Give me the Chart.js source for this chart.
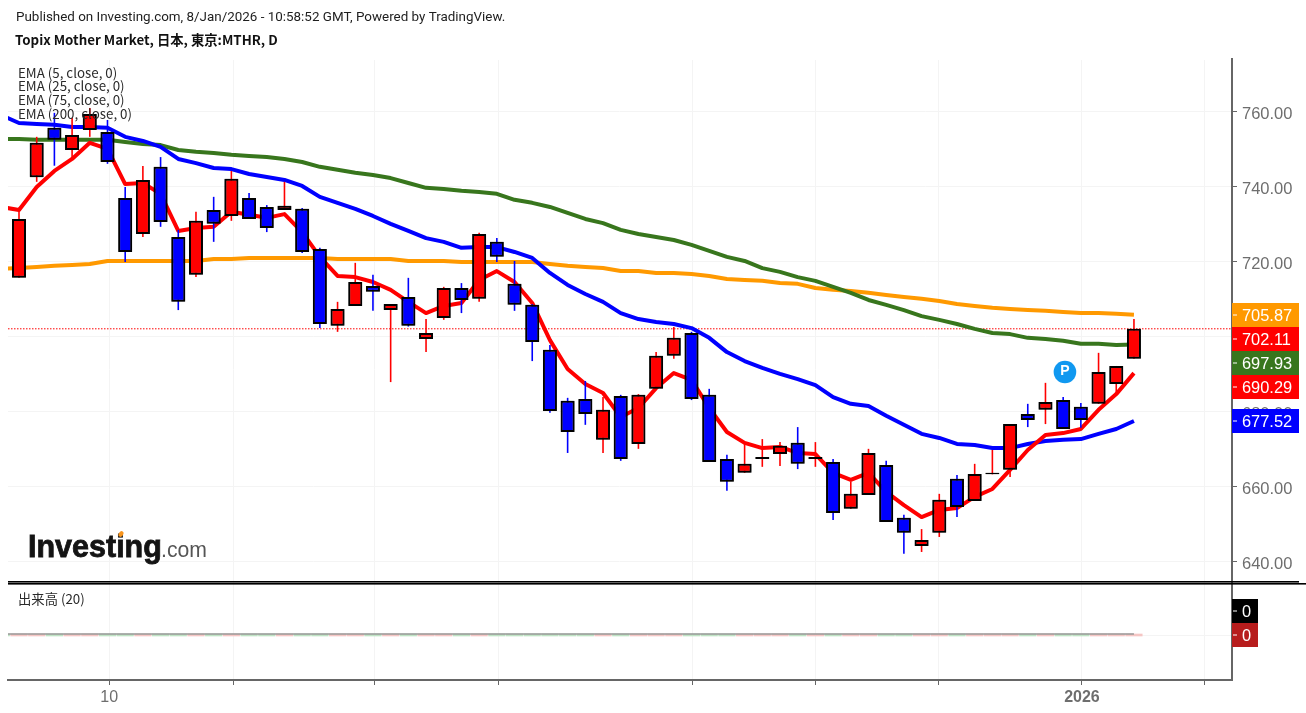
<!DOCTYPE html>
<html><head><meta charset="utf-8">
<style>html,body{margin:0;padding:0;background:#fff}canvas{display:block}</style>
<script src="https://cdn.jsdelivr.net/npm/chart.js@4"></script>
</head><body><canvas id="c" width="1306" height="713"></canvas>
<script>
const publishedText = "Published on Investing.com, 8/Jan/2026 - 10:58:52 GMT, Powered by TradingView.";
const titleText = "Topix Mother Market, 日本, 東京:MTHR, D";
const legendLabels = ["EMA (5, close, 0)","EMA (25, close, 0)","EMA (75, close, 0)","EMA (200, close, 0)"];
const volumeLabel = "出来高 (20)";
const priceTicks = [640,660,680,700,720,740,760];
const timeTickIndex = [5.1,12.1,20.06,27.12,38.08,45.03,51.98,60.06,67.01];
const timeTickLabels = ["10","","","","","","","2026",""];

const opens = [715.7,742.5,755.7,749.8,755.1,754.6,737.0,727.4,745.3,726.6,
716.5,733.8,732.2,737.0,734.6,733.8,734.1,723.4,702.9,708.2,
713.5,707.1,710.6,699.4,705.0,713.0,710.1,725.3,714.1,708.5,
696.5,682.9,683.4,672.5,684.2,671.4,686.1,694.9,701.0,684.5,
667.4,663.7,667.4,668.7,671.7,667.4,666.6,654.1,657.8,665.8,
651.7,644.2,647.7,662.1,656.2,663.3,664.5,679.4,680.5,683.1,
681.3,682.1,687.4,694.1];
const closes = [731.4,751.7,752.5,753.8,759.4,746.6,722.6,741.8,730.6,709.3,
730.9,730.1,742.1,731.4,729.0,734.9,722.6,703.4,707.4,714.6,
712.0,708.7,702.9,701.0,713.0,709.8,727.4,721.3,708.5,698.6,
680.2,674.6,679.4,680.5,667.4,684.5,694.9,699.7,683.4,666.6,
661.3,666.1,667.9,670.9,666.1,667.9,653.0,658.1,669.0,650.6,
647.7,645.8,656.5,654.6,663.4,663.7,676.7,677.8,682.6,675.4,
677.8,690.6,692.2,702.11];
const highs = [733.8,753.3,759.7,758.3,761.0,757.8,739.9,745.5,747.9,728.5,
733.3,737.3,744.2,738.3,735.1,741.3,734.3,723.7,709.3,719.7,
716.5,708.7,715.7,704.7,713.3,714.3,727.7,726.3,720.2,708.7,
697.8,683.7,688.2,683.9,684.5,684.7,695.9,702.6,701.3,686.1,
668.5,671.7,672.7,671.9,675.9,671.9,667.4,661.3,670.1,666.9,
652.5,648.7,658.1,663.1,666.1,669.8,676.7,682.1,687.7,683.9,
682.3,695.7,692.2,704.7];
const lows = [715.7,741.3,745.6,747.9,753.3,746.1,719.9,726.6,729.3,707.1,
715.9,725.3,730.9,731.4,727.9,733.8,722.3,702.3,701.3,708.2,
706.9,687.9,702.7,695.9,704.5,706.3,709.3,719.9,706.9,693.5,
679.7,669.0,676.5,669.0,666.9,670.1,686.1,694.1,683.1,666.6,
658.9,663.7,665.3,665.5,664.7,665.3,651.1,654.1,657.8,650.6,
642.1,642.6,646.6,651.9,656.2,663.3,662.6,675.9,676.7,675.4,
675.7,682.1,685.0,694.1];
// EMA and volume values start one session before the first visible candle
const ema5 = [734.6,733.8,739.9,744.2,747.4,751.7,750.1,740.7,741.0,738.1,728.2,729.0,729.3,733.3,732.5,731.7,732.7,727.9,721.3,716.2,715.9,714.6,712.5,709.3,706.3,708.2,709.0,715.1,717.5,714.6,709.0,699.1,691.4,687.4,685.0,678.6,681.0,686.3,690.3,688.5,681.0,674.6,671.7,670.3,670.6,669.0,668.7,663.7,661.8,663.7,658.6,655.1,651.9,653.8,654.3,657.3,659.4,664.5,669.8,673.8,674.3,675.4,680.5,684.7,690.29];
const ema25 = [759.1,757.0,756.7,756.5,755.9,755.9,755.7,753.3,752.2,750.6,747.4,746.3,745.0,744.7,743.4,742.6,741.8,740.2,737.3,735.7,734.1,732.2,730.1,728.2,726.3,725.3,723.7,723.9,723.9,722.6,721.0,717.0,713.8,711.4,709.3,706.3,704.7,703.9,703.4,702.3,699.7,695.9,693.5,691.7,690.1,688.7,687.1,683.9,682.1,681.5,678.9,676.5,674.1,673.0,671.4,671.1,670.3,670.3,671.4,672.2,672.5,672.7,674.1,675.4,677.52];
const ema75 = [752.7,752.7,752.5,752.5,752.5,752.5,752.5,751.9,751.4,751.1,749.8,749.3,749.0,748.5,748.2,747.9,747.4,746.6,745.3,744.5,743.7,743.1,742.3,741.0,739.7,739.4,738.9,738.6,738.1,736.5,735.7,734.6,733.0,731.4,730.3,728.5,727.4,726.6,725.8,724.5,722.9,721.3,720.2,718.3,717.3,715.9,714.9,713.3,711.7,709.8,708.5,707.1,705.5,704.5,703.4,702.1,701.0,700.7,699.7,699.4,698.9,698.1,698.1,697.8,697.93];
const ema200 = [718.1,718.3,718.6,718.9,719.1,719.4,720.2,720.2,720.2,720.2,720.2,720.2,720.7,720.7,721.0,721.0,721.0,721.0,721.0,720.7,720.7,720.7,720.7,720.2,720.2,720.2,719.9,719.9,719.9,719.9,719.9,719.4,718.9,718.6,718.3,717.5,717.5,717.0,717.0,716.7,716.2,715.4,715.1,714.9,714.3,714.1,713.0,712.5,712.2,711.7,711.1,710.6,710.1,709.5,708.7,708.2,707.7,707.4,707.1,706.9,706.6,706.3,706.3,706.1,705.87];
const volumes = [0,0,0,0,0,0,0,0,0,0,0,0,0,0,0,0,0,0,0,0,0,0,0,0,0,0,0,0,0,0,0,0,0,0,0,0,0,0,0,0,0,0,0,0,0,0,0,0,0,0,0,0,0,0,0,0,0,0,0,0,0,0,0,0,0];
const volumeMA = [0.01,0.01,0.01,0.01,0.01,0.01,0.01,0.01,0.01,0.01,0.01,0.01,0.01,0.01,0.01,0.01,0.01,0.01,0.01,0.01,0.01,0.01,0.01,0.01,0.01,0.01,0.01,0.01,0.01,0.01,0.01,0.01,0.01,0.01,0.01,0.01,0.01,0.01,0.01,0.01,0.01,0.01,0.01,0.01,0.01,0.01,0.01,0.01,0.01,0.01,0.01,0.01,0.01,0.01,0.01,0.01,0.01,0.01,0.01,0.01,0.01,0.01,0.01,0.01,0.01];
const pinIndex = [59.1];
const pinValue = [690.6];
const pinLabel = "P";

const RED='#ff0000', BLUE='#0000ff', GREEN='#38761d', ORANGE='#ff9900';
const AXIS='#666666', GRID='#f4f4f4', TICKTXT='#6e6e6e';
const xMin=-0.6215, xMax=68.54;
const isUp = i => closes[i] >= opens[i];
const emaPts = a => a.map((v,i)=>({x:i-1,y:v}));
const emaDs = (label,a,color) => ({type:'line',label,data:emaPts(a),yAxisID:'y',borderColor:color,borderWidth:4,
  pointRadius:0,tension:0,order:10,borderJoinStyle:'round',borderCapStyle:'butt'});

const tags = [
  {v:ema200[ema200.length-1],c:ORANGE},
  {v:closes[closes.length-1],c:RED},
  {v:ema75[ema75.length-1],c:GREEN},
  {v:ema5[ema5.length-1],c:RED},
  {v:ema25[ema25.length-1],c:BLUE}
];
const tagH=24;

const bodyHalo = {
  id:'bodyHalo',
  beforeDatasetDraw(chart,args){
    if(chart.data.datasets[args.index].label==='body'){
      chart.ctx.save(); chart.ctx.shadowColor='rgba(0,0,0,0.6)'; chart.ctx.shadowBlur=2;
    }
  },
  afterDatasetDraw(chart,args){
    if(chart.data.datasets[args.index].label==='body') chart.ctx.restore();
  }
};

const overlay = {
  id:'overlay',
  afterDraw(chart){
    const c=chart.ctx, y=chart.scales.y, v=chart.scales.v, ca=chart.chartArea;
    c.save();
    c.fillStyle='#000';
    c.fillRect(8,581,1291,1.6);
    c.fillRect(8,583,1298,1.6);
    c.fillStyle=AXIS; c.fillRect(ca.right-1,ca.top-2,2,4);
    const pm=chart.getDatasetMeta(chart.data.datasets.findIndex(d=>d.label==='pin')).data[0];
    c.fillStyle='#fff'; c.font='bold 14px "Liberation Sans"'; c.textAlign='center'; c.textBaseline='middle';
    c.fillText(pinLabel,pm.x,pm.y-1);
    c.textAlign='left';
    let last=-1e9;
    tags.forEach(t=>{
      let cy=y.getPixelForValue(t.v);
      if(cy<last+tagH && last>-1e8) cy=last+tagH;
      last=cy;
      c.fillStyle=t.c; c.fillRect(ca.right,Math.round(cy-tagH/2),67,tagH);
      c.fillStyle='#fff'; c.fillRect(ca.right+1,Math.round(cy)-0.5,4,1);
      c.font='16.4px "Liberation Sans"'; c.fillText(t.v.toFixed(2),1242,Math.round(cy)+1.5);
    });
    const vy=v.getPixelForValue(0);
    const maTag=volumeMA[volumeMA.length-1].toFixed(0), volTag=String(volumes[volumes.length-1]);
    c.fillStyle='#000'; c.fillRect(ca.right,vy-36,26,24);
    c.fillStyle='#b71c1c'; c.fillRect(ca.right,vy-12,26,24);
    c.fillStyle='#fff'; c.fillRect(ca.right+1,vy-24.5,4,1); c.fillRect(ca.right+1,vy-0.5,4,1);
    c.textAlign='center'; c.fillText(volTag,1246.5,vy-23); c.fillText(maTag,1246.5,vy+1);
    c.textAlign='left'; c.textBaseline='alphabetic';
    c.fillStyle='#1e1e1e'; c.font='13.42px Roboto'; c.fillText(publishedText,16,21);
    c.fillStyle='#111'; c.font='bold 13.33px "Noto Sans CJK JP"'; c.fillText(titleText,15,45);
    c.fillStyle='#2a2a2a'; c.font='13.33px "Noto Sans CJK JP"'; c.textBaseline='middle';
    [73,86,100,114].forEach((py,k)=>c.fillText(legendLabels[k],18,py));
    c.fillText(volumeLabel,18,599);
    c.textBaseline='alphabetic';
    c.fillStyle='#141414'; c.font='bold 30.5px "Liberation Sans"';
    c.fillText('Investing',28,557);
    c.strokeStyle='#141414'; c.lineWidth=0.8; c.strokeText('Investing',28,557);
    c.fillStyle='#f7941d'; c.beginPath(); c.ellipse(121,534,2.2,3,0.6,0,Math.PI*2); c.fill();
    c.fillStyle='#555'; c.font='21.2px "Liberation Sans"'; c.fillText('.com',161,557);
    c.restore();
  }
};

new Chart(document.getElementById('c'),{
  data:{datasets:[
    emaDs('EMA 5',ema5,RED), emaDs('EMA 25',ema25,BLUE), emaDs('EMA 75',ema75,GREEN), emaDs('EMA 200',ema200,ORANGE),
    {type:'line',label:'last',data:[{x:xMin,y:closes[closes.length-1]},{x:xMax,y:closes[closes.length-1]}],yAxisID:'y',
      borderColor:RED,borderWidth:1,borderDash:[1.5,1.5],pointRadius:0,order:11},
    {type:'bar',label:'wick',data:highs.map((h,i)=>({x:i,y:[lows[i],h]})),yAxisID:'y',barThickness:1.6,grouped:false,
      backgroundColor:highs.map((h,i)=>isUp(i)?RED:BLUE),borderWidth:0,inflateAmount:0,order:3},
    {type:'bar',label:'body',data:opens.map((o,i)=>({x:i,y:[o,closes[i]]})),yAxisID:'y',barThickness:14,grouped:false,
      backgroundColor:opens.map((o,i)=>isUp(i)?RED:BLUE),borderColor:'#000',borderWidth:2,inflateAmount:0,borderSkipped:false,order:2},
    {type:'line',label:'pin',data:[{x:pinIndex[0],y:pinValue[0]}],yAxisID:'y',showLine:false,pointRadius:11.3,pointBorderWidth:0,
      pointBackgroundColor:'#1098f0',order:1},
    {type:'bar',label:'vol',data:volumes.map((q,i)=>({x:i-1,y:q})),yAxisID:'v',barThickness:16.5,grouped:false,minBarLength:2,
      backgroundColor:volumes.map((q,i)=>(i===0||!isUp(i-1))?'#bfe3c4':'#f5c6c4'),order:6},
    {type:'line',label:'volMA',data:volumeMA.map((q,i)=>({x:i-1,y:q})),yAxisID:'v',borderColor:'#999999',borderWidth:1.6,pointRadius:0,order:5}
  ]},
  plugins:[overlay,bodyHalo],
  options:{
    responsive:false,animation:false,devicePixelRatio:1,
    layout:{autoPadding:false,padding:{left:8,top:60,right:0,bottom:0}},
    plugins:{legend:{display:false},title:{display:false},tooltip:{enabled:false}},
    scales:{
      x:{type:'linear',position:'bottom',min:xMin,max:xMax,offset:false,
        afterBuildTicks(s){s.ticks=timeTickIndex.map(v=>({value:v}));},
        afterFit(s){s.height=33;s.paddingLeft=0;s.paddingRight=0;},
        border:{color:AXIS,width:2},
        grid:{color:GRID,offset:false,tickColor:AXIS,tickLength:5,drawTicks:true},
        ticks:{autoSkip:false,maxRotation:0,padding:3,color:TICKTXT,
          font:ctx=>({family:'"Liberation Sans"',size:16,weight:ctx.tick&&timeTickLabels[timeTickIndex.indexOf(ctx.tick.value)]==='2026'?'bold':'normal'}),
          callback:v=>{const k=timeTickIndex.indexOf(v);return k>=0?timeTickLabels[k]:'';}}},
      y:{type:'linear',position:'right',stack:'pane',stackWeight:522,weight:0,min:634.59,max:773.79,
        afterBuildTicks(s){s.ticks=priceTicks.map(v=>({value:v}));},
        afterFit(s){s.width=74;},
        border:{color:AXIS,width:2},
        grid:{color:GRID,tickColor:AXIS,tickLength:5},
        ticks:{padding:5,color:TICKTXT,font:{family:'"Liberation Sans"',size:16.5,lineHeight:'5px'},callback:v=>['',v.toFixed(2)]}},
      v:{type:'linear',position:'right',stack:'pane',stackWeight:98,weight:1,min:-0.45,max:0.53,
        afterBuildTicks(s){s.ticks=[{value:0}];},
        afterFit(s){s.width=74;},
        border:{color:AXIS,width:2},
        grid:{color:GRID,tickColor:'transparent',tickLength:5},
        ticks:{padding:5,color:'transparent',font:{size:12},callback:()=>''}}
    }
  }
});
</script></body></html>
